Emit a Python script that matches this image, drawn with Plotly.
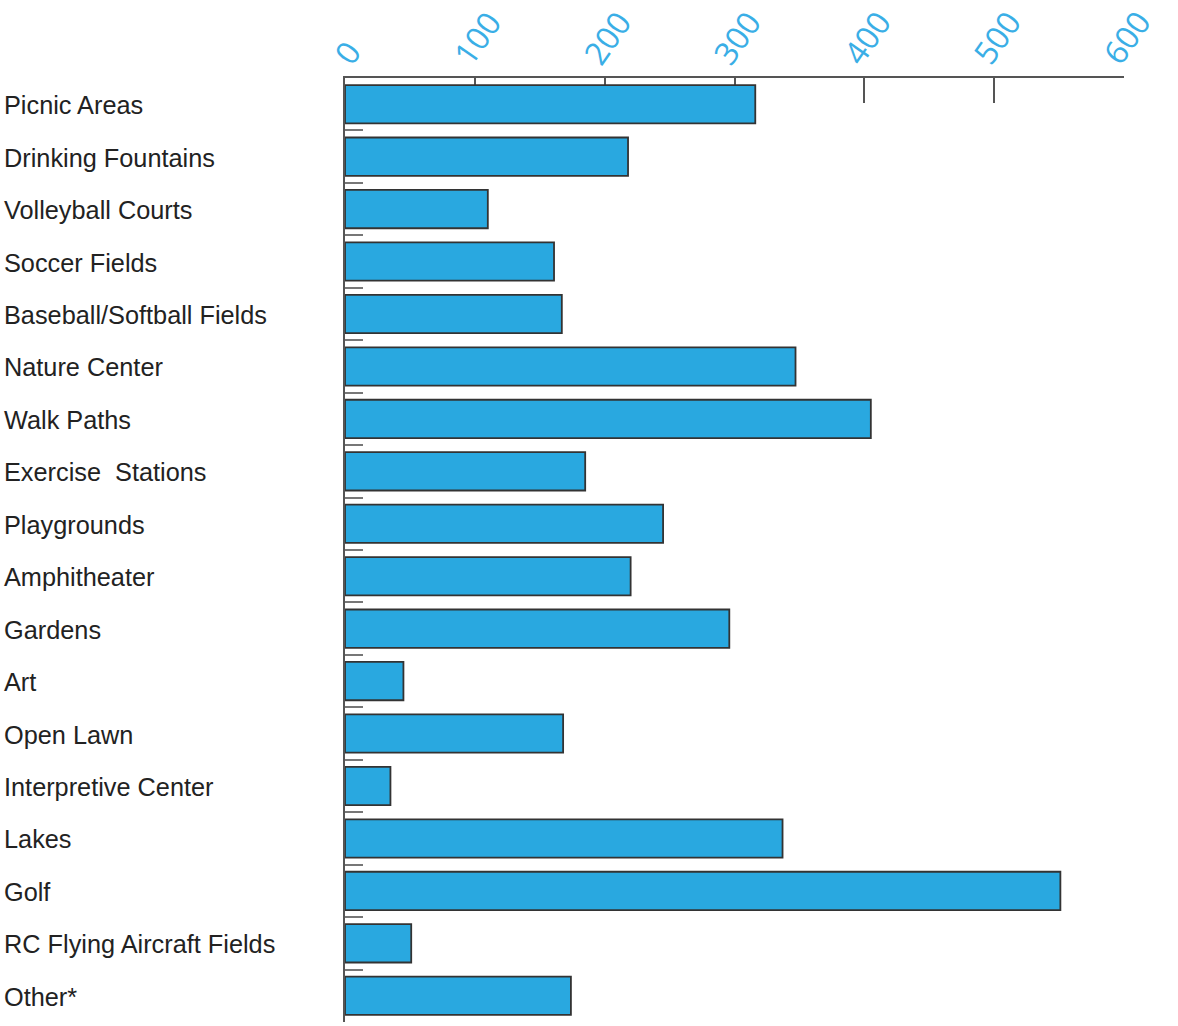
import plotly.graph_objects as go

categories = [
    "Picnic Areas", "Drinking Fountains", "Volleyball Courts", "Soccer Fields",
    "Baseball/Softball Fields", "Nature Center", "Walk Paths", "Exercise  Stations",
    "Playgrounds", "Amphitheater", "Gardens", "Art", "Open Lawn",
    "Interpretive Center", "Lakes", "Golf", "RC Flying Aircraft Fields", "Other*",
]
values = [316, 218, 110, 161, 167, 347, 405, 185, 245, 220, 296, 45, 168, 35, 337, 551, 51, 174]
tick_vals = [0, 100, 200, 300, 400, 500, 600]
tick_text = ["0", "100", "200", "300", "400", "500", "600"]

W, H = 1178, 1026
ML, MR, MT, MB = 345, 54, 78, 4

fig = go.Figure(go.Bar(
    x=values, y=categories, orientation="h",
    marker=dict(color="#29A8E0", line=dict(color="#333333", width=1.8)),
    hoverinfo="x+y",
))

plot_w = W - ML - MR
annotations = [
    dict(text=c.replace("  ", "&nbsp; "), x=(2 - ML) / plot_w, xref="paper", xanchor="left",
         y=c, yref="y", yanchor="middle", showarrow=False, yshift=-1,
         font=dict(family="Liberation Sans, Arial, sans-serif", size=25.3, color="#222222"))
    for c in categories
]
# rotated x tick labels, centred on their ticks
annotations += [
    dict(text=t, x=v, xref="x", y=1, yref="paper", xanchor="center", yanchor="bottom",
         textangle=-55, showarrow=False, yshift=3, xshift=2,
         font=dict(family="Open Sans, sans-serif", size=32, color="#3AAEE6"))
    for v, t in zip(tick_vals, tick_text)
]

fig.update_layout(
    template="none",
    width=W, height=H,
    margin=dict(l=ML, r=MR, t=MT, b=MB, autoexpand=False),
    paper_bgcolor="white", plot_bgcolor="white",
    bargap=0.27,
    showlegend=False,
    annotations=annotations,
    xaxis=dict(
        side="top", range=[0, 600], tickvals=tick_vals, showticklabels=False,
        showgrid=False, zeroline=False, automargin=False,
        showline=True, linecolor="#555555", linewidth=2,
        ticks="inside", ticklen=25, tickwidth=1.5, tickcolor="#555555",
        layer="below traces", fixedrange=True,
    ),
    yaxis=dict(
        autorange="reversed", showticklabels=False, showgrid=False, automargin=False,
        showline=True, linecolor="#555555", linewidth=2,
        ticks="inside", tickson="boundaries", ticklen=18, tickwidth=2,
        tickcolor="#777777", zeroline=False, fixedrange=True,
    ),
)

fig.write_html(
    "out.html",
    config={"displayModeBar": False},
    post_script=(
        "document.documentElement.style.margin='0';"
        "document.body.style.margin='0';document.body.style.padding='0';"
        "document.body.style.overflow='hidden';"
    ),
)
